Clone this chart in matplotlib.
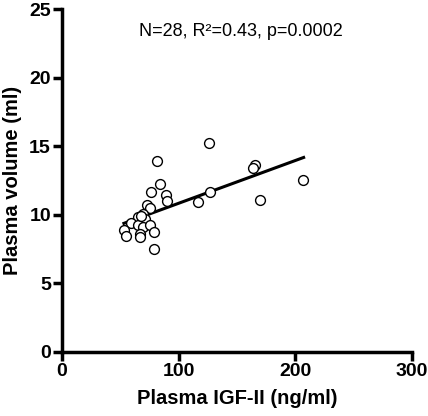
import matplotlib
matplotlib.use("Agg")
import matplotlib.pyplot as plt

# IGF-II (ng/ml) vs plasma volume (ml)
igf2 = [81, 84, 76, 89, 90, 73, 75, 69, 65, 71, 59, 65, 69, 75, 53.5, 54.5,
        66.5, 66.5, 79, 78.5, 68, 125.5, 165.5, 163.5, 206.5, 127, 116.5, 170]
volume = [13.9, 12.2, 11.65, 11.45, 11.0, 10.7, 10.45, 10.05, 9.85, 9.7, 9.4, 9.25,
          9.1, 9.25, 8.9, 8.4, 8.6, 8.35, 8.7, 7.45, 9.9, 15.2, 13.6, 13.4, 12.55,
          11.65, 10.95, 11.1]

# regression line end points
fit_x = [53, 207]
fit_y = [9.36, 14.17]

x_ticks = [0, 100, 200, 300]
y_ticks = [0, 5, 10, 15, 20, 25]
stats_text = "N=28, R²=0.43, p=0.0002"

plt.rcParams['font.family'] = ['Liberation Sans', 'DejaVu Sans']

fig = plt.figure(figsize=(4.28, 4.16), dpi=100)
ax = fig.add_axes([0.145, 0.155, 0.818, 0.823])

ax.plot(fit_x, fit_y, color='black', linewidth=2.2, zorder=2)
ax.scatter(igf2, volume, s=50, facecolors='white', edgecolors='black',
           linewidths=1.0, zorder=3)

ax.set_xlim(0, 300)
ax.set_ylim(0, 25)
ax.set_xticks(x_ticks)
ax.set_yticks(y_ticks)

for side in ['top', 'right']:
    ax.spines[side].set_visible(False)
for side in ['left', 'bottom']:
    ax.spines[side].set_linewidth(2.5)

ax.tick_params(direction='out', length=6.5, width=2.5, labelsize=14, pad=1.5)
for lbl in ax.get_xticklabels() + ax.get_yticklabels():
    lbl.set_fontweight('bold')

ax.set_xlabel("Plasma IGF-II (ng/ml)", fontsize=14.5, fontweight='bold', labelpad=7)
ax.set_ylabel("Plasma volume (ml)", fontsize=14.5, fontweight='bold', labelpad=5)

ax.text(0.51, 0.935, stats_text, transform=ax.transAxes, ha='center', va='center',
        fontsize=13)

fig.savefig("out.png", dpi=100)
plt.close(fig)
